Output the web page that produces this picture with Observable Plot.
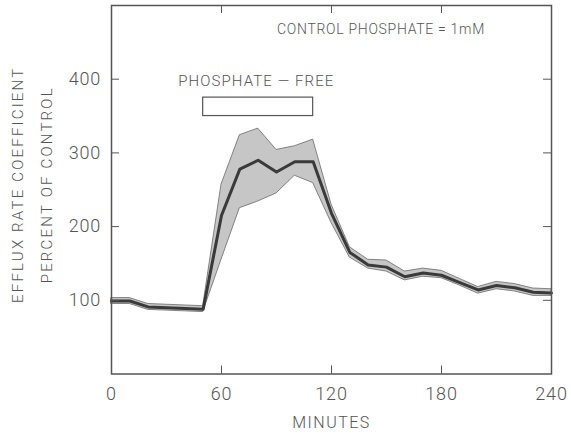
<!DOCTYPE html>
<html><head><meta charset="utf-8">
<script src="https://cdn.jsdelivr.net/npm/d3@7"></script>
<script src="https://cdn.jsdelivr.net/npm/@observablehq/plot@0.6"></script>
<style>
body{margin:0;background:#fff}
#chart svg text{font-family:Roboto,"DejaVu Sans",sans-serif;font-weight:300;}
</style></head><body><div id="chart"></div>
<script>
const minutes = [0,10,20,30,40,50,60,70,80,90,100,110,120,130,140,150,160,170,180,190,200,210,220,230,240];
const meanEfflux = [99,99,91,90,89,88,215,278,290,274,288,288,218,165,148,145,132,137,134,124,114,120,117,111,110];
const upperEfflux = [103,103,95,94,93,92,257,324,333,304,309,318,230,172,155,154,139,143,140,129,118,125,122,116,115];
const lowerEfflux = [95,95,87,86,85,84,155,225,234,245,269,259,205,158,143,139,127,132,130,120,109,115,112,106,106];
const xTickLabels = [0,60,120,180,240];
const xTickMarks = [60,120,180];
const yTickLabels = [100,200,300,400];
const phosphateFree = [{start:50, end:110, low:350, high:375}];
const notes = [
  {x:147, y:467, label:"CONTROL PHOSPHATE = 1mM", size:14},
  {x:79, y:397, label:"PHOSPHATE \u2014 FREE", size:15}
];
const yTitle = ["EFFLUX RATE COEFFICIENT","PERCENT OF CONTROL"];
const xTitle = "MINUTES";

const data = minutes.map((m,i)=>({m, mean:meanEfflux[i], hi:upperEfflux[i], lo:lowerEfflux[i]}));
const ink = "#555";
const W = 571, H = 435, mL = 111, mR = 20, mT = 5, mB = 61.5;
const fw = W - mL - mR, fh = H - mT - mB, tk = 8;

const chart = Plot.plot({
  width:W, height:H,
  marginLeft:mL, marginRight:mR, marginTop:mT, marginBottom:mB,
  style:{background:"#fff", color:ink, fontSize:"18px"},
  x:{domain:[0,240], axis:null},
  y:{domain:[0,500], axis:null},
  marks:[
    Plot.areaY(data,{x:"m", y1:"lo", y2:"hi", fill:"#c6c6c6", stroke:"#6a6a6a", strokeWidth:0.8}),
    Plot.line(data,{x:"m", y:"mean", stroke:"#3a3a3a", strokeWidth:3}),
    Plot.rect(phosphateFree,{x1:"start", x2:"end", y1:"low", y2:"high", fill:"#fff", stroke:ink, strokeWidth:1.2}),
    // inward tick marks
    Plot.ruleX(xTickMarks,{x:d=>d, insetTop:fh-tk, stroke:ink, strokeWidth:1}),
    Plot.ruleX(xTickMarks,{x:d=>d, insetBottom:fh-tk, stroke:ink, strokeWidth:1}),
    Plot.ruleY(yTickLabels,{y:d=>d, insetRight:fw-tk, stroke:ink, strokeWidth:1}),
    Plot.ruleY(yTickLabels,{y:d=>d, insetLeft:fw-tk, stroke:ink, strokeWidth:1}),
    Plot.frame({stroke:ink, strokeWidth:1.5}),
    Plot.axisX(xTickLabels,{anchor:"bottom", tickSize:0, tickPadding:13, label:null, fontSize:18, fill:ink}),
    Plot.axisY(yTickLabels,{anchor:"left", tickSize:0, tickPadding:10.5, label:null, fontSize:18, fill:ink}),
    Plot.text(notes,{x:"x", y:"y", text:"label", fontSize:d=>d.size, fill:ink}),
    Plot.text([xTitle],{frameAnchor:"bottom", text:d=>d, lineAnchor:"middle", dy:49, fontSize:16, fill:ink}),
    Plot.text([yTitle[0]],{frameAnchor:"left", text:d=>d, textAnchor:"middle", lineAnchor:"middle", rotate:-90, dx:-93, dy:-5, fontSize:15, fill:ink}),
    Plot.text([yTitle[1]],{frameAnchor:"left", text:d=>d, textAnchor:"middle", lineAnchor:"middle", rotate:-90, dx:-64, dy:-5, fontSize:15, fill:ink})
  ]
});
document.getElementById("chart").appendChild(chart);
const spacing = {"MINUTES":"1.5px","EFFLUX RATE COEFFICIENT":"2.2px","PERCENT OF CONTROL":"2.2px","CONTROL PHOSPHATE = 1mM":"0.7px","PHOSPHATE \u2014 FREE":"1.1px"};
d3.select(chart).selectAll("text").each(function(){
  const t = this.textContent;
  if (spacing[t]) this.style.letterSpacing = spacing[t];
  else if (/^\d+$/.test(t)) this.style.letterSpacing = "0.8px";
});
</script></body></html>
